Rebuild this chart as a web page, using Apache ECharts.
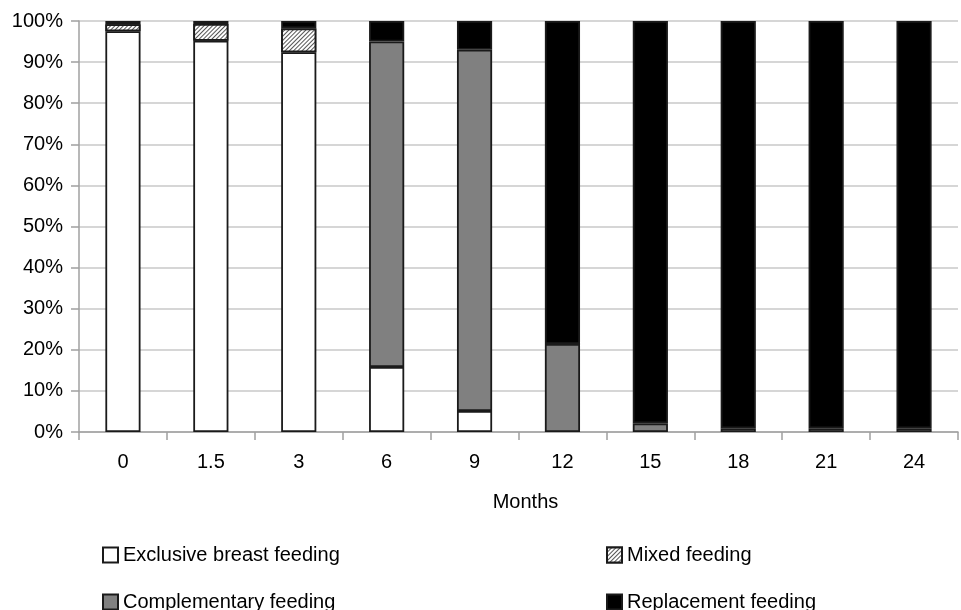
<!DOCTYPE html>
<html>
<head>
<meta charset="utf-8">
<script src="https://cdn.jsdelivr.net/npm/echarts@6/dist/echarts.min.js"></script>
<style>html,body{margin:0;padding:0;background:#fff}#c{width:961px;height:610px}</style>
</head>
<body>
<div id="c"></div>
<script>
const months = ['0', '1.5', '3', '6', '9', '12', '15', '18', '21', '24'];
const exclusiveBreast = [97.5, 95.2, 92.4, 15.8, 5.1, null, null, null, null, null];
const mixed = [1.7, 4.1, 5.8, null, null, null, null, null, null, null];
const complementary = [null, null, null, 79.2, 87.9, 21.4, 2.1, 0.9, 0.9, 0.9];
const replacement = [0.8, 0.7, 1.8, 5.0, 7.0, 78.6, 97.9, 99.1, 99.1, 99.1];
const yTicks = [0, 10, 20, 30, 40, 50, 60, 70, 80, 90, 100];

const FONT = 'Liberation Sans, Arial, Helvetica, sans-serif';
const chart = echarts.init(document.getElementById('c'), null, {renderer: 'canvas'});

function bar(name, data, color, extra) {
  return Object.assign({
    name: name,
    type: 'bar',
    stack: 'total',
    data: data,
    barWidth: '40%',
    itemStyle: {color: color, borderColor: '#1a1a1a', borderWidth: 1.8},
    emphasis: {disabled: true}
  }, extra || {});
}

const legendBase = {
  icon: 'rect', itemWidth: 15, itemHeight: 15, itemGap: 6,
  textStyle: {fontFamily: FONT, fontSize: 20, color: '#000'},
  selectedMode: false
};

chart.setOption({
  animation: false,
  grid: {left: 79, right: 3, top: 21, bottom: 178, containLabel: false},
  legend: [
    Object.assign({data: ['Exclusive breast feeding'], left: 97, top: 540}, legendBase),
    Object.assign({data: ['Mixed feeding'], left: 601, top: 540}, legendBase),
    Object.assign({data: ['Complementary feeding'], left: 97, top: 587}, legendBase),
    Object.assign({data: ['Replacement feeding'], left: 601, top: 587}, legendBase)
  ],
  xAxis: {
    type: 'category',
    data: months,
    name: 'Months',
    nameLocation: 'middle',
    nameGap: 60,
    nameTextStyle: {fontFamily: FONT, fontSize: 20, color: '#000', padding: [0, 0, 0, 14]},
    axisLine: {lineStyle: {color: '#a0a0a0', width: 1.5}},
    axisTick: {show: true, length: 8, lineStyle: {color: '#a0a0a0', width: 1.5}},
    axisLabel: {fontFamily: FONT, fontSize: 20, color: '#000', margin: 20}
  },
  yAxis: {
    type: 'value',
    min: yTicks[0],
    max: yTicks[yTicks.length - 1],
    interval: 10,
    axisLine: {show: true, lineStyle: {color: '#a0a0a0', width: 1.5}},
    axisTick: {show: true, length: 8, lineStyle: {color: '#a0a0a0', width: 1.5}},
    splitLine: {lineStyle: {color: '#c8c8c8', width: 1.5}},
    axisLabel: {fontFamily: FONT, fontSize: 20, color: '#000', margin: 16, formatter: '{value}%'}
  },
  series: [
    bar('Exclusive breast feeding', exclusiveBreast, '#ffffff'),
    bar('Mixed feeding', mixed, '#ffffff', {
      itemStyle: {
        color: '#ffffff', borderColor: '#1a1a1a', borderWidth: 1.8,
        decal: {symbol: 'rect', symbolSize: 1, dashArrayX: [1, 0], dashArrayY: [1, 2], rotation: -Math.PI / 4, color: '#555', backgroundColor: '#fff'}
      }
    }),
    bar('Complementary feeding', complementary, '#808080'),
    bar('Replacement feeding', replacement, '#000000')
  ]
});
</script>
</body>
</html>
